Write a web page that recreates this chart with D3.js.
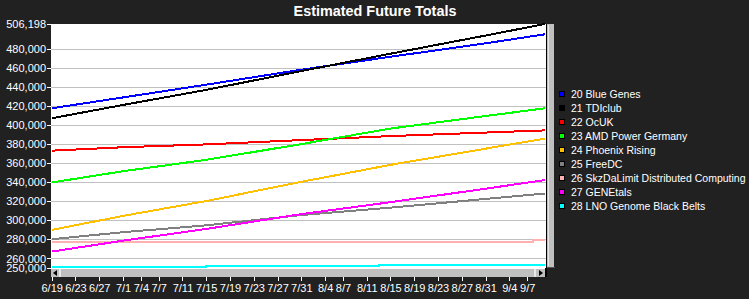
<!DOCTYPE html>
<html>
<head>
<meta charset="utf-8">
<script src="https://cdn.jsdelivr.net/npm/d3@7"></script>
<style>
  body { margin: 0; background: #212121; }
  svg { display: block; font-family: "Liberation Sans", Arial, sans-serif; }
</style>
</head>
<body>
<div id="chart"></div>
<script>
const parse = d3.timeParse("%Y-%m-%d");

// sample dates
const dates = ["2003-06-19", "2003-07-01", "2003-07-15", "2003-07-31", "2003-08-15", "2003-08-31", "2003-09-10"];

const blueGenes   = [417700, 429100, 442500, 458200, 471800, 485900, 495400];
const tdiClub     = [407200, 421200, 437000, 456800, 475000, 494100, 506198];
const ocUK        = [373200, 376800, 379800, 384300, 388500, 392200, 394500];
const amdPower    = [339800, 351600, 363600, 380100, 396400, 409600, 417700];
const phoenix     = [290000, 304700, 320300, 340500, 358300, 375300, 385800];
const freeDC      = [280200, 287600, 294800, 305600, 313400, 322500, 328200];
const genEtals    = [267200, 278700, 291000, 306600, 319100, 333300, 342300];

// flat series with small steps
const skzDates = ["2003-06-19", "2003-09-08", "2003-09-10"];
const skzDaLimit = [277800, 279200, 279200];
const lnoDates = ["2003-06-19", "2003-07-15", "2003-08-13", "2003-09-10"];
const lnoGenome = [251300, 252300, 253200, 253200];

const seriesNames = ["20 Blue Genes", "21 TDIclub", "22 OcUK", "23 AMD Power Germany", "24 Phoenix Rising",
  "25 FreeDC", "26 SkzDaLimit Distributed Computing", "27 GENEtals", "28 LNO Genome Black Belts"];
const seriesColors = ["#0000ff", "#000000", "#ff0000", "#00ff00", "#ffc000", "#808080", "#ffb0b0", "#ff00ff", "#00ffff"];

const yTicks = [250000, 260000, 280000, 300000, 320000, 340000, 360000, 380000, 400000, 420000, 440000, 460000, 480000, 506198];
const xTicks = ["2003-06-19", "2003-06-23", "2003-06-27", "2003-07-01", "2003-07-04", "2003-07-07", "2003-07-11",
  "2003-07-15", "2003-07-19", "2003-07-23", "2003-07-27", "2003-07-31", "2003-08-04", "2003-08-07", "2003-08-11",
  "2003-08-15", "2003-08-19", "2003-08-23", "2003-08-27", "2003-08-31", "2003-09-04", "2003-09-07"];

const width = 749, height = 299;
const plot = {left: 51, top: 24, right: 546, bottom: 268};

const svg = d3.select("#chart").append("svg")
  .attr("width", width)
  .attr("height", height);

svg.append("rect").attr("width", width).attr("height", height).attr("fill", "#212121");

// title
svg.append("text")
  .attr("x", 375).attr("y", 16)
  .attr("text-anchor", "middle")
  .attr("fill", "#fff")
  .style("font-weight", "bold")
  .style("font-size", "14.4px")
  .text("Estimated Future Totals");

const x = d3.scaleTime()
  .domain([parse("2003-06-19"), parse("2003-09-10")])
  .range([plot.left + 0.7, plot.right - 1]);

const y = d3.scaleLinear()
  .domain([250000, 506198])
  .range([plot.bottom, plot.top]);

// plot background
svg.append("rect")
  .attr("x", plot.left).attr("y", plot.top)
  .attr("width", plot.right - plot.left).attr("height", 253)
  .attr("fill", "#fff");

// grid
svg.append("g")
  .attr("transform", `translate(${plot.left},0)`)
  .call(d3.axisLeft(y).tickValues(yTicks.filter(d => d > 250000 && d < 506198)).tickSize(-(plot.right - plot.left)).tickFormat(""))
  .call(g => g.select(".domain").remove())
  .call(g => g.selectAll("line").attr("stroke", "#c0c0c0").attr("shape-rendering", "crispEdges"));

// lines
const allSeries = [
  {dates: dates, values: blueGenes},
  {dates: dates, values: tdiClub},
  {dates: dates, values: ocUK},
  {dates: dates, values: amdPower},
  {dates: dates, values: phoenix},
  {dates: dates, values: freeDC},
  {dates: skzDates, values: skzDaLimit, step: true},
  {dates: dates, values: genEtals},
  {dates: lnoDates, values: lnoGenome, step: true}
];

const lineG = svg.append("g");
allSeries.forEach((s, i) => {
  const pts = s.dates.map((d, j) => [parse(d), s.values[j]]);
  const line = d3.line()
    .x(d => x(d[0]))
    .y(d => y(d[1]))
    .curve(s.step ? d3.curveStepAfter : d3.curveLinear);
  lineG.append("path")
    .datum(pts)
    .attr("d", line)
    .attr("fill", "none")
    .attr("stroke", seriesColors[i])
    .attr("stroke-width", 2)
    .attr("shape-rendering", "crispEdges");
});

// y axis labels
svg.append("g")
  .attr("transform", `translate(${plot.left},0)`)
  .call(d3.axisLeft(y).tickValues(yTicks).tickSize(4).tickPadding(1).tickFormat(d3.format(",")))
  .call(g => g.select(".domain").remove())
  .call(g => g.selectAll("line").attr("stroke", "#fff").attr("shape-rendering", "crispEdges"))
  .call(g => g.selectAll("text").attr("fill", "#fff").style("font-size", "11px"));

// horizontal scrollbar
const hs = svg.append("g");
hs.append("rect").attr("x", plot.left).attr("y", 269).attr("width", plot.right - plot.left).attr("height", 8).attr("fill", "#c0c0c0");
hs.append("rect").attr("x", plot.left + 8).attr("y", 269).attr("width", 2).attr("height", 8).attr("fill", "#e8e8e8");
hs.append("path").attr("d", `M${plot.left + 2},273 l4,-3 v6 z`).attr("fill", "#000");
hs.append("rect").attr("x", plot.right - 12).attr("y", 269).attr("width", 2).attr("height", 8).attr("fill", "#e8e8e8");
hs.append("path").attr("d", `M${plot.right - 3},273 l-4,-3 v6 z`).attr("fill", "#000");
hs.append("rect").attr("x", plot.right - 1).attr("y", 268).attr("width", 2).attr("height", 9).attr("fill", "#000");

// vertical scrollbar
const vs = svg.append("g");
vs.append("rect").attr("x", plot.right).attr("y", plot.top).attr("width", 1).attr("height", 244).attr("fill", "#000");
vs.append("rect").attr("x", plot.right + 1).attr("y", plot.top).attr("width", 7).attr("height", 243).attr("fill", "#c0c0c0");
vs.append("rect").attr("x", plot.right + 2).attr("y", plot.top + 1).attr("width", 1).attr("height", 241).attr("fill", "#e8e8e8");
vs.append("rect").attr("x", plot.right + 1).attr("y", plot.top + 243).attr("width", 8).attr("height", 1).attr("fill", "#555");

// x axis
svg.append("g")
  .attr("transform", "translate(0,277)")
  .call(d3.axisBottom(x).tickValues(xTicks.map(parse)).tickSize(4).tickPadding(3).tickFormat(d3.timeFormat("%-m/%-d")))
  .call(g => g.select(".domain").remove())
  .call(g => g.selectAll("line").attr("stroke", "#fff").attr("shape-rendering", "crispEdges"))
  .call(g => g.selectAll("text").attr("fill", "#fff").style("font-size", "11px"));

// legend
const legend = svg.append("g").attr("transform", "translate(559,94)");
seriesNames.forEach((name, i) => {
  const row = legend.append("g").attr("transform", `translate(0,${i * 14})`);
  row.append("rect")
    .attr("x", 0.5).attr("y", -2.5)
    .attr("width", 5).attr("height", 5)
    .attr("fill", seriesColors[i])
    .attr("stroke", "#000")
    .attr("shape-rendering", "crispEdges");
  row.append("text")
    .attr("x", 12).attr("y", 4)
    .attr("fill", "#fff")
    .style("font-size", "10.5px")
    .text(name);
});
</script>
</body>
</html>
